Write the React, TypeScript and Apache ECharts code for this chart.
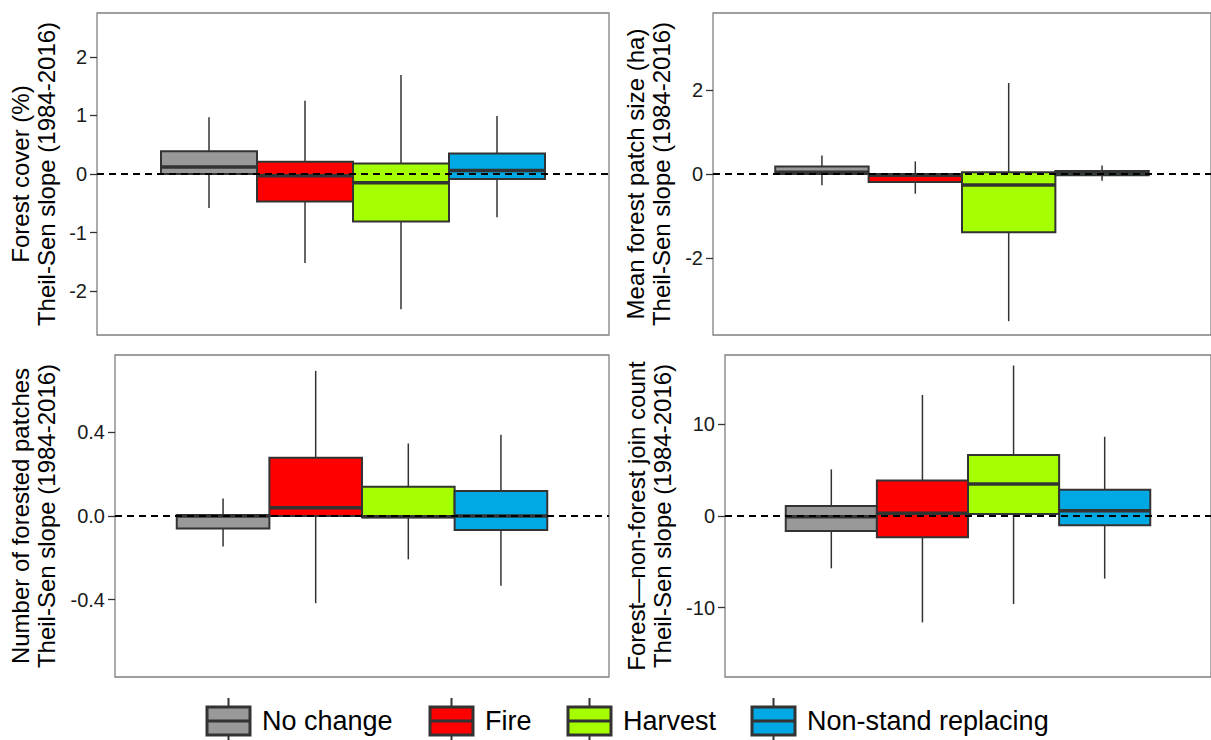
import React, { useEffect, useRef } from "react";
import * as echarts from "echarts";

const categories = ["No change", "Fire", "Harvest", "Non-stand replacing"];
const colors = ["#999999", "#FF0000", "#A6FF00", "#00A9E3"];

// each row: [lower whisker, Q1, median, Q3, upper whisker]
const forestCover = [
  [-0.58, 0.0, 0.12, 0.39, 0.97],
  [-1.52, -0.47, -0.03, 0.21, 1.25],
  [-2.31, -0.81, -0.15, 0.18, 1.69],
  [-0.74, -0.085, 0.06, 0.35, 0.99],
];
const patchSize = [
  [-0.27, 0.0, 0.04, 0.18, 0.44],
  [-0.47, -0.19, -0.03, 0.0, 0.3],
  [-3.51, -1.39, -0.26, 0.04, 2.17],
  [-0.16, -0.03, 0.03, 0.07, 0.2],
];
const numPatches = [
  [-0.146, -0.06, 0.0, 0.005, 0.084],
  [-0.417, 0.0, 0.04, 0.279, 0.694],
  [-0.207, -0.006, -0.003, 0.14, 0.347],
  [-0.334, -0.067, 0.0, 0.119, 0.389],
];
const joinCount = [
  [-5.7, -1.63, -0.07, 1.09, 5.08],
  [-11.6, -2.32, 0.29, 3.88, 13.2],
  [-9.6, 0.22, 3.48, 6.64, 16.4],
  [-6.82, -1.02, 0.58, 2.87, 8.64],
];

const ticks1 = [-2, -1, 0, 1, 2];
const ticks2 = [-2, 0, 2];
const ticks3 = [-0.4, 0, 0.4];
const ticks4 = [-10, 0, 10];

const range1 = [-2.75, 2.75];
const range2 = [-3.84, 3.84];
const range3 = [-0.77, 0.77];
const range4 = [-17.55, 17.55];

const yNames = [
  "Forest cover (%)\nTheil-Sen slope (1984-2016)",
  "Mean forest patch size (ha)\nTheil-Sen slope (1984-2016)",
  "Number of forested patches\nTheil-Sen slope (1984-2016)",
  "Forest\u2014non-forest join count\nTheil-Sen slope (1984-2016)",
];
const referenceLine = [0];

const FONT = "'Liberation Sans', Arial, Helvetica, sans-serif";

const panels = [
  { stats: forestCover, ticks: ticks1, range: range1, digits: 0, grid: { left: 97, top: 13, width: 512, height: 322 }, nameGap: 38, xTick: false },
  { stats: patchSize, ticks: ticks2, range: range2, digits: 0, grid: { left: 713, top: 13, width: 520, height: 322 }, nameGap: 39, xTick: true },
  { stats: numPatches, ticks: ticks3, range: range3, digits: 1, grid: { left: 115, top: 355, width: 494, height: 322 }, nameGap: 56, xTick: false },
  { stats: joinCount, ticks: ticks4, range: range4, digits: 0, grid: { left: 725, top: 355, width: 508, height: 322 }, nameGap: 50, xTick: false },
];

const legendLayout = { keyX: [207, 430, 568, 752], keyY: 707, keyW: 43, keyH: 28 };

function boxRender(params: any, api: any) {
  const idx = api.value(1);
  const low = api.coord([0, api.value(2)])[1];
  const q1 = api.coord([0, api.value(3)])[1];
  const med = api.coord([0, api.value(4)])[1];
  const q3 = api.coord([0, api.value(5)])[1];
  const high = api.coord([0, api.value(6)])[1];
  const center = api.coord([0, 0])[0];
  const band = api.size([1, 0])[0];
  const bw = (band * 0.75) / 4;
  const x0 = center - band * 0.375 + idx * bw;
  const xc = x0 + bw / 2;
  return {
    type: "group",
    children: [
      { type: "line", shape: { x1: xc, y1: high, x2: xc, y2: low }, style: { stroke: "#333333", lineWidth: 1.5 } },
      { type: "rect", shape: { x: x0, y: q3, width: bw, height: q1 - q3 }, style: { fill: colors[idx], stroke: "#333333", lineWidth: 2 } },
      { type: "line", shape: { x1: x0, y1: med, x2: x0 + bw, y2: med }, style: { stroke: "#333333", lineWidth: 3.5 } },
    ],
  };
}

function zeroRender(params: any, api: any) {
  const cs = params.coordSys;
  const y = api.coord([0, api.value(1)])[1];
  return {
    type: "line",
    shape: { x1: cs.x, y1: y, x2: cs.x + cs.width, y2: y },
    style: { stroke: "#000000", lineWidth: 2, lineDash: [7, 5] },
  };
}

export default function App() {
  const ref = useRef<HTMLDivElement>(null);
  useEffect(() => {
    if (!ref.current) return;
    const chart = echarts.init(ref.current, null, { renderer: "svg" });

    const grid: any[] = [];
    const xAxis: any[] = [];
    const yAxis: any[] = [];
    const series: any[] = [];

    panels.forEach((p, i) => {
      grid.push({ ...p.grid, show: true, borderColor: "#808080", borderWidth: 1.3, backgroundColor: "transparent" });
      xAxis.push({
        gridIndex: i,
        type: "category",
        data: [""],
        axisLine: { show: false },
        axisLabel: { show: false },
        axisTick: { show: p.xTick, alignWithLabel: true, length: 7, lineStyle: { color: "#333333", width: 1.3 } },
        splitLine: { show: false },
      });
      yAxis.push({
        gridIndex: i,
        type: "value",
        min: p.range[0],
        max: p.range[1],
        name: yNames[i],
        nameLocation: "middle",
        nameRotate: 90,
        nameGap: p.nameGap,
        nameTextStyle: { fontSize: 24, color: "#000000", fontFamily: FONT, lineHeight: 26 },
        axisLine: { show: false },
        splitLine: { show: false },
        axisTick: { show: true, length: 7, customValues: p.ticks, lineStyle: { color: "#333333", width: 1.3 } },
        axisLabel: {
          customValues: p.ticks,
          fontSize: 20,
          color: "#1a1a1a",
          fontFamily: FONT,
          margin: 10,
          formatter: (v: number) => v.toFixed(p.digits),
        },
      });
      series.push({
        type: "custom",
        xAxisIndex: i,
        yAxisIndex: i,
        renderItem: boxRender,
        encode: { x: 0, y: [2, 3, 4, 5, 6] },
        data: p.stats.map((s, k) => [0, k, ...s]),
        z: 2,
        silent: true,
      });
      series.push({
        type: "custom",
        xAxisIndex: i,
        yAxisIndex: i,
        renderItem: zeroRender,
        encode: { x: 0, y: 1 },
        data: referenceLine.map((v) => [0, v]),
        z: 5,
        silent: true,
      });
    });

    const graphic: any[] = [];
    categories.forEach((c, i) => {
      const kx = legendLayout.keyX[i];
      const ky = legendLayout.keyY;
      const kw = legendLayout.keyW;
      const kh = legendLayout.keyH;
      graphic.push({
        type: "group",
        children: [
          { type: "line", shape: { x1: kx + kw / 2, y1: ky - 9, x2: kx + kw / 2, y2: ky + kh + 8 }, style: { stroke: "#333333", lineWidth: 2 } },
          { type: "rect", shape: { x: kx, y: ky, width: kw, height: kh }, style: { fill: colors[i], stroke: "#333333", lineWidth: 3 } },
          { type: "line", shape: { x1: kx, y1: ky + kh / 2, x2: kx + kw, y2: ky + kh / 2 }, style: { stroke: "#333333", lineWidth: 3 } },
          { type: "text", x: kx + kw + 12, y: ky + kh / 2, style: { text: c, fontSize: 27, fill: "#000000", fontFamily: FONT, verticalAlign: "middle" } },
        ],
      });
    });

    chart.setOption({
      animation: false,
      backgroundColor: "#ffffff",
      grid,
      xAxis,
      yAxis,
      series,
      graphic,
    });
    return () => chart.dispose();
  }, []);
  return <div ref={ref} style={{ position: "fixed", left: 0, top: 0, width: 1211, height: 740 }} />;
}
